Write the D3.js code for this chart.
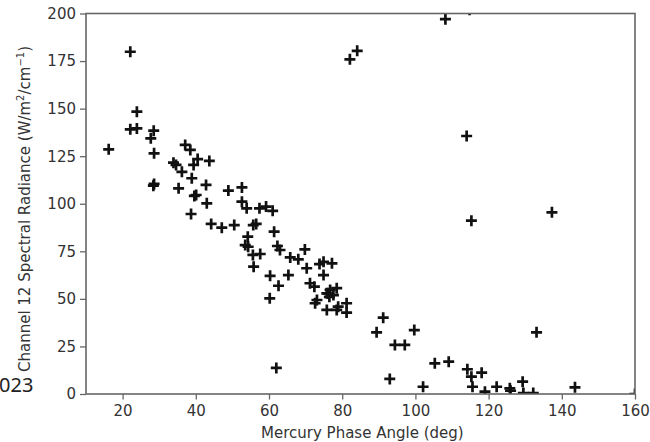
<!DOCTYPE html>
<html>
<head>
<meta charset="utf-8">
<script src="https://d3js.org/d3.v7.min.js"></script>
<style>
  body { margin: 0; background: #fff; }
  #canvas { width: 650px; height: 442px; }
  text { font-family: "DejaVu Sans", sans-serif; fill: #333; }
</style>
</head>
<body>
<div id="canvas" class="canvas"></div>
<script>
// phase angle (deg) and channel 12 radiance
var phase = [16.2, 22.1, 22.1, 23.9, 23.9, 27.7, 28.5, 28.6, 28.6, 28.4,
    33.9, 34.6, 36.2, 35.3, 37.1, 38.5, 38.9, 38.7, 39.4, 39.6, 40.1, 40.5,
    42.8, 43.0, 43.7, 44.2, 47.1, 48.9, 50.5, 52.6, 52.6, 53.9, 55.7, 56.5,
    54.2, 53.5, 54.3, 57.4, 59.2, 61.0, 61.4, 62.3, 63.0, 69.8, 55.6, 57.6,
    65.8, 68.0, 55.8, 70.3, 73.8, 74.9, 77.2, 60.3, 65.3, 74.9, 71.2, 72.4,
    62.6, 76.7, 78.5, 77.6, 76.2, 75.8, 76.5, 60.2, 73.1, 72.6, 75.8, 78.5,
    78.9, 81.2, 81.2, 62.0, 82.1, 84.1, 108.2, 114.8, 114.0, 115.3, 137.3,
    89.4, 91.2, 93.0, 94.4, 97.1, 99.7, 102.1, 105.3, 109.1, 114.2, 115.3,
    118.1, 115.6, 119.0, 122.2, 125.8, 126.0, 129.3, 129.5, 132.2, 133.1,
    143.6, 160.0];
var radiance = [128.6, 179.9, 139.1, 139.6, 148.4, 134.4, 138.4, 126.5, 110.4, 109.5,
    121.6, 120.4, 116.8, 108.1, 130.9, 128.3, 113.4, 94.6, 120.4, 104.1, 104.6, 123.5,
    109.9, 100.2, 122.5, 89.4, 87.4, 106.9, 88.8, 108.6, 101.1, 97.6, 88.8, 89.4,
    82.7, 78.3, 77.4, 97.6, 98.5, 96.3, 85.3, 77.8, 75.7, 76.0, 73.1, 73.6,
    71.8, 70.8, 66.9, 66.1, 68.3, 69.5, 68.7, 62.1, 62.5, 62.5, 58.2, 56.4,
    56.9, 54.7, 55.6, 52.0, 52.9, 52.9, 51.1, 50.3, 49.4, 47.7, 44.2, 44.2,
    45.9, 47.7, 42.8, 13.7, 175.9, 180.4, 197.0, 202.0, 135.6, 91.1, 95.5,
    32.4, 40.1, 7.9, 25.8, 25.8, 33.6, 3.8, 16.1, 17.0, 13.0, 9.1,
    11.2, 3.8, 1.2, 3.8, 3.0, 1.7, 6.5, 0.5, 0.5, 32.4,
    3.5, 0.0];
var xTicks = [20, 40, 60, 80, 100, 120, 140, 160];
var yTicks = [0, 25, 50, 75, 100, 125, 150, 175, 200];

var m = {t:13.5, r:15, b:48, l:86},
    w = 650 - m.l - m.r,
    h = 442 - m.t - m.b;

var svg = d3.select('.canvas')
    .append('svg')
    .attr('width', 650)
    .attr('height', 442);

var plot = svg.append('g').attr('class','plot')
    .attr('transform','translate('+ m.l+','+ m.t+')');

var scaleX = d3.scaleLinear().domain([10,160]).range([0,w]),
    scaleY = d3.scaleLinear().domain([0,200]).range([h,0]);

plot.append('clipPath').attr('id','clip')
    .append('rect').attr('width', w).attr('height', h);

//markers
var pts = phase.map(function(d,i){ return {x:d, y:radiance[i]}; });
plot.append('g').attr('clip-path','url(#clip)')
    .selectAll('path')
    .data(pts)
    .enter()
    .append('path')
    .attr('d','M-5.5,0H5.5M0,-5.5V5.5')
    .attr('transform', function(d){ return 'translate('+scaleX(d.x)+','+scaleY(d.y)+')'; })
    .style('stroke','#111')
    .style('stroke-width',2.7)
    .style('fill','none');

//axes
var axisX = d3.axisBottom(scaleX).tickValues(xTicks).tickSizeInner(5.5).tickSizeOuter(0).tickPadding(6);
var axisY = d3.axisLeft(scaleY).tickValues(yTicks).tickSizeInner(6).tickSizeOuter(0).tickPadding(4);

var gx = plot.append('g').attr('transform','translate(0,'+h+')').call(axisX);
var gy = plot.append('g').call(axisY);
[gx, gy].forEach(function(g){
    g.select('.domain').remove();
    g.selectAll('line').style('stroke','#666').style('stroke-width',1.3);
    g.selectAll('text').style('font-size','15px').style('fill','#333');
});

//frame
plot.append('rect')
    .attr('width', w).attr('height', h)
    .style('fill','none').style('stroke','#666').style('stroke-width',1.6);

//labels
svg.append('text')
    .attr('x', m.l + scaleX(85.5)).attr('y', 438)
    .attr('text-anchor','middle')
    .style('font-size','15px')
    .text('Mercury Phase Angle (deg)');

var yl = svg.append('text')
    .attr('transform','translate(30,209) rotate(-90)')
    .attr('text-anchor','middle')
    .style('font-size','15px');
yl.append('tspan').text('Channel 12 Spectral Radiance (W/m');
yl.append('tspan').attr('dy',-6).style('font-size','10px').text('2');
yl.append('tspan').attr('dy',6).text('/cm');
yl.append('tspan').attr('dy',-6).style('font-size','10px').text('\u22121');
yl.append('tspan').attr('dy',6).text(')');

svg.append('text')
    .attr('x', -1).attr('y', 392)
    .style('font-family','"Noto Sans", sans-serif')
    .style('font-size','20px')
    .style('fill','#222')
    .text('023');
</script>
</body>
</html>
